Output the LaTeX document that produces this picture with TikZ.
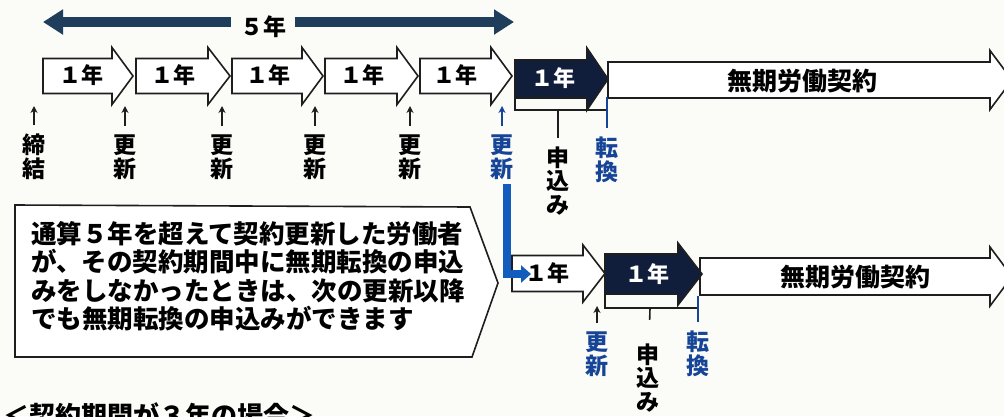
\documentclass[tikz,border=0pt]{standalone}
\usepackage{fontspec}
\setmainfont{Noto Sans CJK JP}
\usetikzlibrary{arrows.meta}

\definecolor{navy}{RGB}{16,30,60}
\definecolor{barblue}{RGB}{30,62,92}
\definecolor{txtblue}{RGB}{22,68,150}
\definecolor{linkblue}{RGB}{18,92,190}
\definecolor{paper}{RGB}{251,251,247}
\definecolor{ink}{RGB}{30,30,30}

% block arrow: style, left x, tip x, centre y, body half, head half, head length
\newcommand{\blockarrow}[7]{%
  \path[#1] (#2,#4-#5) -- (#3-#7,#4-#5) -- (#3-#7,#4-#6) -- (#3,#4)
    -- (#3-#7,#4+#6) -- (#3-#7,#4+#5) -- (#2,#4+#5) -- cycle;}

\begin{document}
\begin{tikzpicture}
		[x=1pt,y=-1pt,
		wbox/.style={draw=ink,line width=1.6pt,fill=white},
		dbox/.style={draw=ink,line width=1.6pt,fill=navy},
		yr/.style={font=\fontsize{22}{22}\selectfont\bfseries,inner sep=0pt},
		yrw/.style={yr,text=white},
		yrfive/.style={font=\fontsize{23}{23}\selectfont\bfseries,inner xsep=9pt,inner ysep=0pt},
		big/.style={font=\fontsize{25}{25}\selectfont\bfseries,inner sep=0pt},
		lbl/.style={font=\fontsize{23}{23.5}\selectfont\bfseries,align=center,inner sep=0pt,outer ysep=9pt},
		blbl/.style={lbl,text=txtblue},
		uparr/.style={draw=ink,line width=1.6pt,-{Stealth[length=7pt 0 0,width=7pt 0 0]}},
		buparr/.style={uparr,draw=txtblue},
		brk/.style={draw=ink,line width=1.6pt},
		tie/.style={draw=txtblue,line width=1.6pt},
		link/.style={draw=linkblue,line width=8pt,-{Triangle[length=10pt 0 0,width=17pt 0 0]}},
		yrbar/.style={draw=barblue,line width=10pt,-{Triangle[length=20pt 0 0,width=24pt 0 0]}},
		callout/.style={draw=ink,line width=1.6pt,fill=white},
		notetext/.style={font=\fontsize{25.5}{28.5}\selectfont\bfseries,align=left,inner sep=0pt}]

		\useasboundingbox (0,0) rectangle (1004,416);
		\clip (0,0) rectangle (1004,416);
		\fill[paper] (0,0) rectangle (1004,416);

		% 5 years
		\node[yrfive] (five) at (263,27) {５年};
		\coordinate (fivel) at (43,22);
		\coordinate (fiver) at (514,22);
		\draw[yrbar] (five.west |- fivel) -- (fivel);
		\draw[yrbar] (five.east |- fiver) -- (fiver);

		% first row
		\blockarrow{wbox}{43}{133}{76}{17.5}{28.5}{21}
		\blockarrow{wbox}{136}{230}{76}{17.5}{28.5}{22}
		\blockarrow{wbox}{232}{323}{76}{17.5}{28.5}{21}
		\blockarrow{wbox}{325}{418}{76}{17.5}{28.5}{21}
		\blockarrow{wbox}{420}{512}{76}{17.5}{28.5}{21}
		\blockarrow{wbox}{608}{1012}{80}{18}{29.5}{22}
		\blockarrow{dbox}{515}{608}{79}{19}{31}{21}

		\node[yr] (y1) at (81,75) {１年};
		\node[yr] (y2) at (173,75) {１年};
		\node[yr] (y3) at (268,75) {１年};
		\node[yr] (y4) at (362,75) {１年};
		\node[yr] (y5) at (455,75) {１年};
		\node[yrw] (y6) at (553,78) {１年};
		\node[big] (mk) at (802,81) {無期労働契約};

		\node[lbl] (tk) at (34,157) {締\\結};
		\node[lbl] (ks1) at (125,157) {更\\新};
		\node[lbl] (ks2) at (222,157) {更\\新};
		\node[lbl] (ks3) at (315,157) {更\\新};
		\node[lbl] (ks4) at (410,157) {更\\新};
		\node[blbl] (ks5) at (502,157) {更\\新};
		\node[lbl] (ms1) at (558,181) {申\\込\\み};
		\node[blbl] (tn1) at (607,160) {転\\換};

		\coordinate (tkt) at (34,106);
		\coordinate (ks1t) at (125,106);
		\coordinate (ks2t) at (222,106);
		\coordinate (ks3t) at (315,106);
		\coordinate (ks4t) at (410,106);
		\coordinate (ks5t) at (502,106);
		\draw[uparr] (tk) -- (tkt);
		\draw[uparr] (ks1) -- (ks1t);
		\draw[uparr] (ks2) -- (ks2t);
		\draw[uparr] (ks3) -- (ks3t);
		\draw[uparr] (ks4) -- (ks4t);
		\draw[buparr] (ks5) -- (ks5t);

		\coordinate (bk1a) at (515,97);
		\coordinate (bk1b) at (607,110);
		\coordinate (bk1m) at (558,110);
		\coordinate (tn1t) at (607,97);
		\draw[brk] (bk1a) |- (bk1b);
		\draw[brk] (bk1m) -- (ms1);
		\draw[tie] (tn1) -- (tn1t);

		% second row
		\blockarrow{wbox}{512}{605}{273.5}{18}{28.5}{22}
		\blockarrow{wbox}{700}{1012}{276.5}{18.5}{29.5}{22}
		\blockarrow{dbox}{605}{702}{274}{20}{31}{24}

		\node[yr] (y7) at (547,273) {１年};
		\node[yrw] (y8) at (647,274) {１年};
		\node[big] (mk2) at (855,277) {無期労働契約};

		\node[blbl] (ks6) at (597,354) {更\\新};
		\node[lbl] (ms2) at (648,378) {申\\込\\み};
		\node[blbl] (tn2) at (698,354) {転\\換};

		\coordinate (ks6t) at (597,306);
		\coordinate (bk2a) at (605,295);
		\coordinate (bk2b) at (698,308);
		\coordinate (bk2m) at (650,308);
		\coordinate (tn2t) at (698,296);
		\draw[uparr] (ks6) -- (ks6t);
		\draw[brk] (bk2a) |- (bk2b);
		\draw[brk,shorten >=15pt] (bk2m) -- (ms2);
		\draw[tie] (tn2) -- (tn2t);

		% link to the next renewal
		\coordinate (lk1) at (507,184);
		\coordinate (lk2) at (531,274);
		\draw[link] (lk1) |- (lk2);

		% note
		\draw[callout] (15,205) -- (470,207) -- (498,283) -- (472,357) -- (15,357) -- cycle;
		\node[notetext,anchor=north west] (note) at (31,221)
			{通算５年を超えて契約更新した労働者\\が、その契約期間中に無期転換の申込\\みをしなかったときは、次の更新以降\\でも無期転換の申込みができます};

		\node[font=\fontsize{26}{26}\selectfont\bfseries,inner sep=0pt,anchor=west] (case3) at (3,415) {＜契約期間が３年の場合＞};
\end{tikzpicture}
\end{document}
